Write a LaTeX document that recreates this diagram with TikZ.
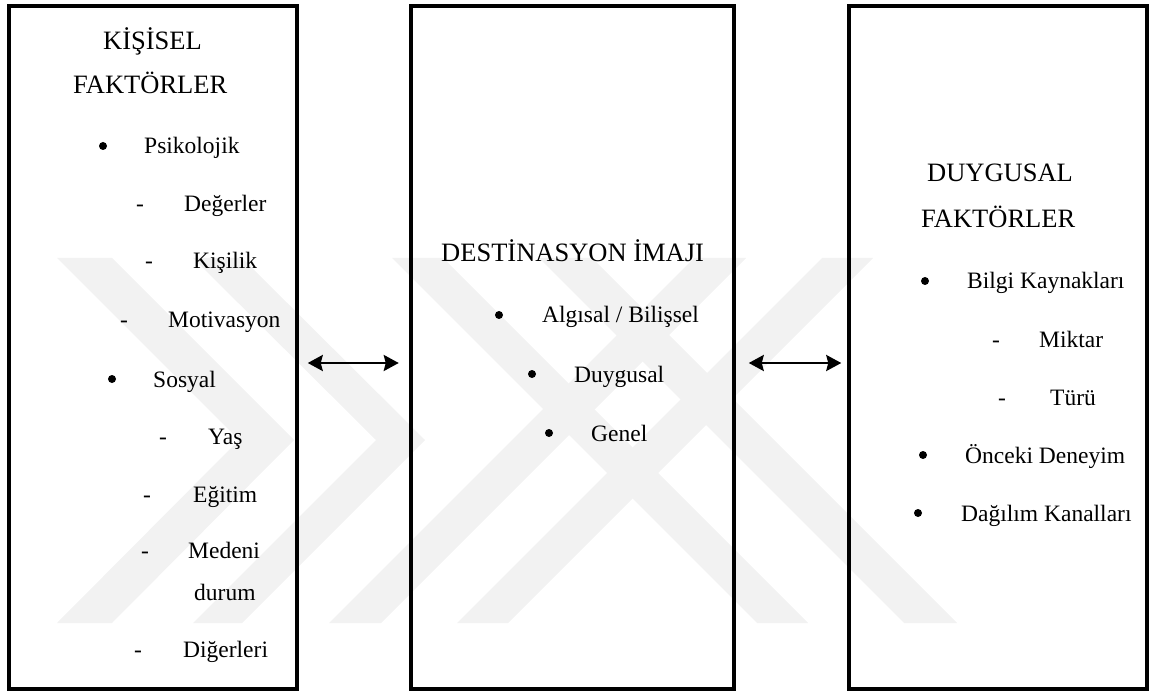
\documentclass[tikz,border=0pt]{standalone}
\usepackage{fontspec}
\setmainfont{Liberation Serif}
\usetikzlibrary{arrows.meta}
\tikzset{
  kutu/.style={draw, line width=3.5pt, minimum height=683pt, inner sep=0pt},
  baslik/.style={anchor=base west, inner sep=0pt, font=\fontsize{26.5}{32}\selectfont},
  madde/.style={anchor=base west, inner sep=0pt, font=\fontsize{23.5}{28}\selectfont},
  tire/.style={anchor=base, inner sep=0pt, font=\fontsize{23.5}{28}\selectfont},
  nokta/.style={circle, fill, inner sep=0pt, minimum size=8pt},
  cift/.style={{Stealth[length=15pt,width=16pt,inset=2pt]}-{Stealth[length=15pt,width=16pt,inset=2pt]}, line width=2.5pt},
  filigran/.style={fill=gray!10, draw=none}
}
\begin{document}
\begin{tikzpicture}[x=1pt, y=-1pt]
 \useasboundingbox (0,0) rectangle (1152,695);
 \fill[filigran] (57,258)--(112,258)--(294,440)--(112,623)--(57,623)--(239,440)--cycle;
 \fill[filigran] (193,258)--(242,258)--(425,440)--(242,623)--(193,623)--(376,440)--cycle;
 \fill[filigran] (329,623)--(381,623)--(746,258)--(694,258)--cycle;
 \fill[filigran] (457,623)--(508,623)--(873,258)--(822,258)--cycle;
 \fill[filigran] (757,623)--(808,623)--(443,258)--(392,258)--cycle;
 \fill[filigran] (904,623)--(957,623)--(592,258)--(539,258)--cycle;
 \node[kutu, minimum width=288pt] (kisisel) at (153,347.5) {};
 \node[kutu, minimum width=323pt] (imaj) at (572.5,347.5) {};
 \node[kutu, minimum width=298pt] (duygusal) at (998,347.5) {};
 \draw[cift, shorten <=9pt, shorten >=10.5pt] ([yshift=-15.5pt]kisisel.east) -- ([yshift=-15.5pt]imaj.west);
 \draw[cift, shorten <=13pt, shorten >=6pt] ([yshift=-15.5pt]imaj.east) -- ([yshift=-15.5pt]duygusal.west);
 \node[baslik] (k1) at (103,50) {KİŞİSEL};
 \node[baslik] (k2) at (73,94) {FAKTÖRLER};
 \node[nokta] (kb1) at (103,146) {};
 \node[madde] (kt1) at (144,154) {Psikolojik};
 \node[tire] (kd1) at (140,212) {-};
 \node[madde] (kt2) at (184,212) {Değerler};
 \node[tire] (kd2) at (149,269) {-};
 \node[madde] (kt3) at (193,269) {Kişilik};
 \node[tire] (kd3) at (124,327) {-};
 \node[madde] (kt4) at (168,327) {Motivasyon};
 \node[nokta] (kb2) at (112,379) {};
 \node[madde] (kt5) at (153,387) {Sosyal};
 \node[tire] (kd4) at (163,444) {-};
 \node[madde] (kt6) at (208,444) {Yaş};
 \node[tire] (kd5) at (147,502) {-};
 \node[madde] (kt7) at (193,502) {Eğitim};
 \node[tire] (kd6) at (145,558) {-};
 \node[madde] (kt8) at (188,558) {Medeni};
 \node[madde] (kt9) at (194,600) {durum};
 \node[tire] (kd7) at (138,657) {-};
 \node[madde] (kt10) at (183,657) {Diğerleri};
 \node[baslik] (i1) at (441,262) {DESTİNASYON İMAJI};
 \node[nokta] (ib1) at (499,315) {};
 \node[madde] (it1) at (542,323) {Algısal / Bilişsel};
 \node[nokta] (ib2) at (532,374) {};
 \node[madde] (it2) at (574,382) {Duygusal};
 \node[nokta] (ib3) at (549,433) {};
 \node[madde] (it3) at (591,441) {Genel};
 \node[baslik] (d1) at (927,182) {DUYGUSAL};
 \node[baslik] (d2) at (921,228) {FAKTÖRLER};
 \node[nokta] (db1) at (925,281) {};
 \node[madde] (dt1) at (967,289) {Bilgi Kaynakları};
 \node[tire] (dd1) at (996,347) {-};
 \node[madde] (dt2) at (1039,347) {Miktar};
 \node[tire] (dd2) at (1002,405) {-};
 \node[madde] (dt3) at (1050,405) {Türü};
 \node[nokta] (db2) at (923,455) {};
 \node[madde] (dt4) at (965,463) {Önceki Deneyim};
 \node[nokta] (db3) at (918,513) {};
 \node[madde] (dt5) at (961,521) {Dağılım Kanalları};
\end{tikzpicture}
\end{document}
